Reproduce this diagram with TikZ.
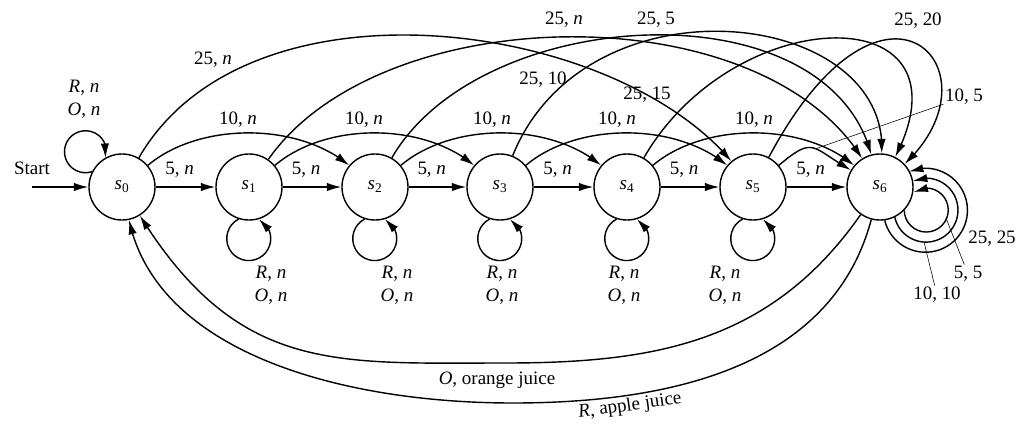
\documentclass[tikz,border=0pt]{standalone}
\usepackage{fontspec}
\setmainfont{Liberation Serif}
\usetikzlibrary{arrows.meta,bending}

\begin{document}
\begin{tikzpicture}[x=0.025cm, y=0.025cm,
    font=\fontsize{13.5}{16}\selectfont,
    vstate/.style={draw, circle, line width=1pt, minimum size=1.65cm, inner sep=0pt},
    trans/.style={line width=1pt, -{Latex[length=3.6mm,width=2.1mm]}},
    lbl/.style={inner sep=1pt},
    pointerline/.style={line width=0.4pt}]

  \useasboundingbox (0,-236) rectangle (1028,187);

  % States
  \node[vstate] (s0) at (122,0) {\textit{s}\textsubscript{0}};
  \node[vstate] (s1) at (249,0) {\textit{s}\textsubscript{1}};
  \node[vstate] (s2) at (375,0) {\textit{s}\textsubscript{2}};
  \node[vstate] (s3) at (500,0) {\textit{s}\textsubscript{3}};
  \node[vstate] (s4) at (627,0) {\textit{s}\textsubscript{4}};
  \node[vstate] (s5) at (753,0) {\textit{s}\textsubscript{5}};
  \node[vstate] (s6) at (880,0) {\textit{s}\textsubscript{6}};

  % Start
  \coordinate (start) at (32,0);
  \node[lbl] (startlabel) at (32,19) {Start};
  \draw[trans] (start) -- (s0);

  % Buttons pressed too early
  \draw[trans] (s0.153) arc[start angle=288, delta angle=-305, radius=0.525cm];
  \node[lbl, align=center] (rs0) at (84,88) {\textit{R}, \textit{n}\\\textit{O}, \textit{n}};
  \draw[trans] (s1.-108) arc[start angle=117.5, delta angle=305, radius=0.55cm];
  \node[lbl, align=center] (rs1) at (271,-98) {\textit{R}, \textit{n}\\\textit{O}, \textit{n}};
  \draw[trans] (s2.-108) arc[start angle=117.5, delta angle=305, radius=0.55cm];
  \node[lbl, align=center] (rs2) at (397,-98) {\textit{R}, \textit{n}\\\textit{O}, \textit{n}};
  \draw[trans] (s3.-108) arc[start angle=117.5, delta angle=305, radius=0.55cm];
  \node[lbl, align=center] (rs3) at (502,-98) {\textit{R}, \textit{n}\\\textit{O}, \textit{n}};
  \draw[trans] (s4.-108) arc[start angle=117.5, delta angle=305, radius=0.55cm];
  \node[lbl, align=center] (rs4) at (624,-98) {\textit{R}, \textit{n}\\\textit{O}, \textit{n}};
  \draw[trans] (s5.-108) arc[start angle=117.5, delta angle=305, radius=0.55cm];
  \node[lbl, align=center] (rs5) at (725,-98) {\textit{R}, \textit{n}\\\textit{O}, \textit{n}};

  % 5 cents
  \draw[trans] (s0) -- (s1) node[lbl, pos=0.4, above=5pt] (f01) {5, \textit{n}};
  \draw[trans] (s1) -- (s2) node[lbl, pos=0.4, above=5pt] (f12) {5, \textit{n}};
  \draw[trans] (s2) -- (s3) node[lbl, pos=0.4, above=5pt] (f23) {5, \textit{n}};
  \draw[trans] (s3) -- (s4) node[lbl, pos=0.4, above=5pt] (f34) {5, \textit{n}};
  \draw[trans] (s4) -- (s5) node[lbl, pos=0.4, above=5pt] (f45) {5, \textit{n}};
  \draw[trans] (s5) -- (s6) node[lbl, pos=0.4, above=5pt] (f56) {5, \textit{n}};

  % 10 cents
  \draw[trans] (s0) .. controls +(40:101) and +(140:101) .. (s2);
  \node[lbl] (t02) at (238,67) {10, \textit{n}};
  \draw[trans] (s1) .. controls +(40:101) and +(140:101) .. (s3);
  \node[lbl] (t13) at (364,67) {10, \textit{n}};
  \draw[trans] (s2) .. controls +(40:101) and +(140:101) .. (s4);
  \node[lbl] (t24) at (492,67) {10, \textit{n}};
  \draw[trans] (s3) .. controls +(40:101) and +(140:101) .. (s5);
  \node[lbl] (t35) at (617,67) {10, \textit{n}};
  \draw[trans] (s4) .. controls +(40:101) and +(140:101) .. (s6);
  \node[lbl] (t46) at (754,67) {10, \textit{n}};
  \draw[trans] (s5) .. controls +(40:80) and +(150:80) .. (s6) coordinate[pos=0.55] (on105);
  \node[lbl] (t56) at (964,90) {10, 5};
  \draw[pointerline] (on105) -- (t56);

  % 25 cents
  \draw[trans] (s0) .. controls +(60:250) and +(130:220) .. (s5);
  \node[lbl] (q05) at (213,127) {25, \textit{n}};
  \draw[trans] (s1) .. controls +(55:229) and +(122:229) .. (s6);
  \node[lbl] (q16) at (564,167) {25, \textit{n}};
  \draw[trans] (s2) .. controls +(60:210) and +(105:210) .. (s6);
  \node[lbl] (q26) at (656,167) {25, 5};
  \draw[trans] (s3) .. controls +(68:230) and +(87:180) .. (s6);
  \node[lbl] (q36) at (543,107) {25, 10};
  \draw[trans] (s4) .. controls +(60:215) and +(63:215) .. (s6);
  \node[lbl] (q46) at (647,92) {25, 15};
  \draw[trans] (s5) .. controls +(62:280) and +(43:170) .. (s6);
  \node[lbl] (q56) at (918,166) {25, 20};

  % Coins put in s6 come back
  \draw[trans] (s6.-44) arc[start angle=181, delta angle=304, radius=0.55cm];
  \draw[trans] (s6.-64) arc[start angle=193, delta angle=281, radius=0.8cm];
  \draw[trans] (s6.-82) arc[start angle=194, delta angle=279, radius=1.05cm];
  \node[lbl] (ret25) at (992,-52) {25, 25};
  \node[lbl] (ret5) at (968,-87) {5, 5};
  \node[lbl] (ret10) at (937,-108) {10, 10};
  \coordinate (on5) at (946,-31);
  \coordinate (on10) at (924,-55);
  \draw[pointerline] (ret5) -- (on5);
  \draw[pointerline] (ret10) -- (on10);

  % Juice
  \coordinate (obottom) at (505,-176);
  \draw[trans] (s6) .. controls +(-125:190) and +(0:150) .. (obottom)
                    .. controls +(180:170) and +(-58:220) .. (s0);
  \node[lbl] (orange) at (497,-193) {\textit{O}, orange juice};
  \coordinate (abottom) at (513,-216);
  \draw[trans] (s6) .. controls +(-105:180) and +(0:170) .. (abottom)
                    .. controls +(180:170) and +(-78:170) .. (s0);
  \node[lbl, rotate=8] (apple) at (630,-219) {\textit{R}, apple juice};
\end{tikzpicture}
\end{document}
